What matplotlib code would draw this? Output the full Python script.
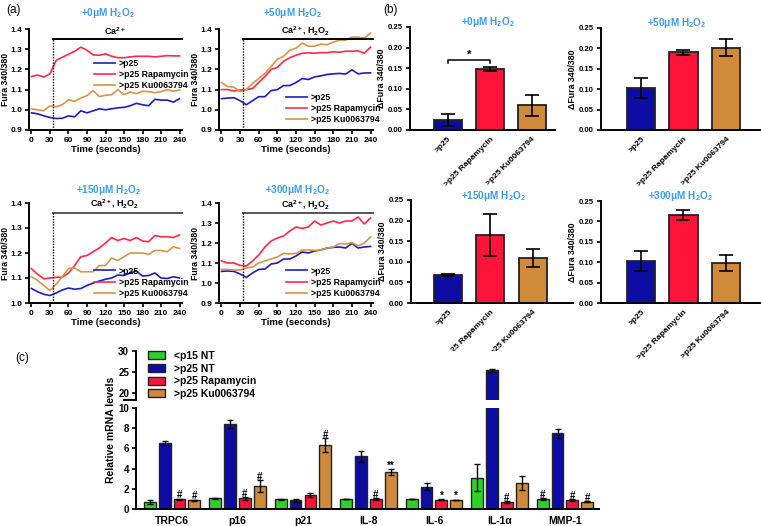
import numpy as np
import matplotlib
matplotlib.use("Agg")
import matplotlib.pyplot as plt
from matplotlib.patches import Patch

plt.rcParams['font.family'] = ['Liberation Sans', 'DejaVu Sans']
plt.rcParams['font.weight'] = 'bold'
plt.rcParams['mathtext.fontset'] = 'custom'
plt.rcParams['mathtext.rm'] = 'Liberation Sans:bold'
plt.rcParams['mathtext.it'] = 'Liberation Sans:bold'
plt.rcParams['mathtext.bf'] = 'Liberation Sans:bold'

# ---------------- data ----------------
time_s = [0, 10, 20, 30, 40, 50, 60, 70, 80, 90, 100, 110, 120, 130, 140, 150,
          160, 170, 180, 190, 200, 210, 220, 230, 240]
series_names = [">p25", ">p25 Rapamycin", ">p25 Ku0063794"]

h0_p25 = [0.985, 0.98, 0.97, 0.962, 0.957, 0.958, 0.97, 0.965, 0.995, 0.985, 0.995, 1.005, 1.0,
          1.005, 1.01, 1.012, 1.02, 1.032, 1.025, 1.02, 1.052, 1.048, 1.048, 1.038, 1.055]
h0_rapa = [1.165, 1.172, 1.162, 1.178, 1.245, 1.26, 1.275, 1.29, 1.31, 1.295, 1.272, 1.27, 1.277,
           1.265, 1.258, 1.258, 1.262, 1.265, 1.265, 1.265, 1.262, 1.265, 1.268, 1.267, 1.267]
h0_ku = [1.005, 1.0, 0.995, 1.02, 1.015, 1.025, 1.05, 1.042, 1.058, 1.07, 1.095, 1.065, 1.072,
         1.075, 1.1, 1.075, 1.088, 1.08, 1.092, 1.09, 1.085, 1.09, 1.1, 1.092, 1.098]

h50_p25 = [1.055, 1.058, 1.06, 1.045, 1.025, 1.045, 1.065, 1.065, 1.095, 1.1, 1.12, 1.12, 1.135,
           1.155, 1.15, 1.163, 1.168, 1.175, 1.178, 1.18, 1.177, 1.198, 1.178, 1.182, 1.183]
h50_rapa = [1.1, 1.1, 1.093, 1.098, 1.1, 1.105, 1.135, 1.165, 1.2, 1.21, 1.24, 1.258, 1.27,
            1.28, 1.282, 1.28, 1.283, 1.283, 1.287, 1.285, 1.29, 1.29, 1.292, 1.28, 1.31]
h50_ku = [1.135, 1.115, 1.112, 1.09, 1.1, 1.13, 1.155, 1.18, 1.215, 1.25, 1.265, 1.295, 1.305,
          1.33, 1.315, 1.315, 1.325, 1.322, 1.335, 1.345, 1.345, 1.36, 1.36, 1.355, 1.38]

h150_p25 = [1.058, 1.045, 1.035, 1.03, 1.04, 1.052, 1.06, 1.055, 1.058, 1.07, 1.08, 1.088, 1.095,
            1.1, 1.112, 1.11, 1.12, 1.128, 1.108, 1.11, 1.12, 1.1, 1.098, 1.105, 1.1]
h150_rapa = [1.137, 1.115, 1.097, 1.1, 1.103, 1.103, 1.12, 1.15, 1.185, 1.19, 1.205, 1.22, 1.24,
             1.262, 1.25, 1.258, 1.25, 1.262, 1.248, 1.245, 1.27, 1.265, 1.265, 1.262, 1.272]
h150_ku = [1.105, 1.09, 1.07, 1.05, 1.075, 1.105, 1.138, 1.14, 1.125, 1.125, 1.125, 1.15, 1.15,
           1.18, 1.17, 1.185, 1.2, 1.2, 1.2, 1.195, 1.21, 1.21, 1.205, 1.225, 1.218]

h300_p25 = [1.058, 1.06, 1.058, 1.045, 1.028, 1.05, 1.068, 1.07, 1.095, 1.1, 1.12, 1.12, 1.135,
            1.155, 1.15, 1.16, 1.165, 1.175, 1.178, 1.18, 1.175, 1.198, 1.175, 1.18, 1.183]
h300_rapa = [1.11, 1.1, 1.1, 1.088, 1.085, 1.11, 1.14, 1.18, 1.21, 1.225, 1.235, 1.26, 1.28,
             1.273, 1.28, 1.31, 1.29, 1.3, 1.31, 1.3, 1.31, 1.31, 1.33, 1.295, 1.325]
h300_ku = [1.068, 1.068, 1.065, 1.065, 1.075, 1.08, 1.1, 1.11, 1.12, 1.13, 1.148, 1.145, 1.148,
           1.165, 1.165, 1.163, 1.165, 1.175, 1.18, 1.197, 1.195, 1.202, 1.185, 1.2, 1.23]

# panel b: delta Fura means and SEM
bar_groups = [">p25", ">p25 Rapamycin", ">p25 Ku0063794"]
d0_mean = [0.025, 0.148, 0.060]
d0_err = [0.015, 0.005, 0.026]
d50_mean = [0.103, 0.190, 0.202]
d50_err = [0.025, 0.005, 0.021]
d150_mean = [0.068, 0.165, 0.110]
d150_err = [0.003, 0.050, 0.022]
d300_mean = [0.103, 0.215, 0.098]
d300_err = [0.025, 0.012, 0.020]

# panel c
genes = ["TRPC6", "p16", "p21", "IL-8", "IL-6", "IL-1α", "MMP-1"]
c_names = ["<p15 NT", ">p25 NT", ">p25 Rapamycin", ">p25 Ku0063794"]
c_p15 = [0.65, 1.05, 0.95, 1.0, 1.0, 3.1, 0.98]
c_p15_err = [0.2, 0.05, 0.05, 0.03, 0.03, 1.35, 0.1]
c_p25 = [6.5, 8.45, 0.88, 5.2, 2.2, 25.4, 7.5]
c_p25_err = [0.2, 0.4, 0.15, 0.55, 0.35, 0.4, 0.45]
c_rapa = [0.95, 1.05, 1.4, 0.95, 0.9, 0.65, 0.85]
c_rapa_err = [0.08, 0.12, 0.2, 0.1, 0.05, 0.1, 0.1]
c_ku = [0.85, 2.25, 6.3, 3.65, 0.88, 2.6, 0.7]
c_ku_err = [0.05, 0.6, 0.7, 0.3, 0.03, 0.7, 0.05]
c_p15_sig = ["", "", "", "", "", "", "#"]
c_p25_sig = ["", "", "", "", "", "", ""]
c_rapa_sig = ["#", "#", "", "#", "*", "#", "#"]
c_ku_sig = ["#", "#", "#", "**", "*", "", "#"]

# ---------------- styling ----------------
W, H = 761, 526
fig = plt.figure(figsize=(W / 100, H / 100), dpi=100)

def ax_px(l, t, r, b):
    return fig.add_axes([l / W, 1 - b / H, (r - l) / W, (b - t) / H])

line_cols = ["#1C1CC8", "#FF2A48", "#D8944A"]
bar_cols = ["#0D0DA5", "#FF1439", "#D08A3A"]
green = "#2AD22A"
title_col = "#3A9BF0"

def style_axes(ax, fs=6):
    for s in ["top", "right"]:
        ax.spines[s].set_visible(False)
    for s in ["left", "bottom"]:
        ax.spines[s].set_linewidth(1.4)
    ax.tick_params(direction="out", length=3, width=1.2, labelsize=fs, pad=2)
    for lab in ax.get_xticklabels() + ax.get_yticklabels():
        lab.set_fontweight("bold")

def ylabel_at(ax, box, right_px):
    l, t, r, b = box
    ax.yaxis.set_label_coords((right_px - l) / (r - l), 0.5)

# ---------------- panel a ----------------
a_specs = [
    ((29, 29, 182, 130), "+0μM H$_2$O$_2$", (h0_p25, h0_rapa, h0_ku), (0.9, 1.4), 1.35,
     "Ca$^{2+}$", (0.40, 0.74), (108, 13)),
    ((219, 29, 373, 130), "+50μM H$_2$O$_2$", (h50_p25, h50_rapa, h50_ku), (0.9, 1.4), 1.35,
     "Ca$^{2+}$, H$_2$O$_2$", (0.41, 0.40), (293, 13)),
    ((29, 203, 182, 303), "+150μM H$_2$O$_2$", (h150_p25, h150_rapa, h150_ku), (1.0, 1.4), 1.36,
     "Ca$^{2+}$, H$_2$O$_2$", (0.40, 0.40), (108, 190)),
    ((219, 203, 373, 303), "+300μM H$_2$O$_2$", (h300_p25, h300_rapa, h300_ku), (0.9, 1.4), 1.35,
     "Ca$^{2+}$, H$_2$O$_2$", (0.41, 0.40), (297, 190)),
]
for i, (box, title, ys, ylim, bary, bartxt, legpos, tpos) in enumerate(a_specs):
    ax = ax_px(*box)
    for y, c, n in zip(ys, line_cols, series_names):
        ax.plot(time_s, y, color=c, lw=1.2, label=n)
    ax.set_xlim(-4, 244)
    ax.set_ylim(*ylim)
    ax.set_xticks(np.arange(0, 241, 30))
    ax.set_yticks(np.round(np.arange(ylim[0], 1.401, 0.1), 2))
    ax.yaxis.set_major_formatter(matplotlib.ticker.FormatStrFormatter("%.1f"))
    barcol = "black" if i < 2 else "#555555"
    ax.plot([35, 244], [bary, bary], color=barcol, lw=1.4, clip_on=False)
    ax.plot([35, 35], [ylim[0], bary], color="black", lw=1.0, ls=(0, (1, 1)))
    ax.text(135, bary + 0.012, bartxt, ha="center", va="bottom", fontsize=6.5,
            fontweight="bold")
    ax.set_ylabel("Fura 340/380", fontsize=6.3, fontweight="bold")
    ylabel_at(ax, box, box[0] - 19)
    ax.set_xlabel("Time (seconds)", fontsize=6.8, fontweight="bold", labelpad=1)
    style_axes(ax)
    ax.legend(loc="upper left", bbox_to_anchor=legpos, frameon=False, fontsize=6.3,
              handlelength=2.4, labelspacing=0.25, borderaxespad=0, handletextpad=0.5)
    fig.text(tpos[0] / W, 1 - tpos[1] / H, title, color=title_col, fontsize=7.2,
             fontweight="bold", ha="center", va="center")

fig.text(6 / W, 1 - 10 / H, "(a)", fontsize=8.5, fontweight="normal", va="center")
fig.text(383 / W, 1 - 10 / H, "(b)", fontsize=8.5, fontweight="normal", va="center")
fig.text(15 / W, 1 - 358 / H, "(c)", fontsize=8.5, fontweight="normal", va="center")

# ---------------- panel b ----------------
b_specs = [
    ((410, 27, 555, 130), (-0.9, 2.55), d0_mean, d0_err, "+0μM H$_2$O$_2$", (488, 22)),
    ((601, 28, 760, 130), (-0.94, 2.8), d50_mean, d50_err, "+50μM H$_2$O$_2$", (677, 23)),
    ((411, 200, 573, 303), (-0.87, 2.95), d150_mean, d150_err, "+150μM H$_2$O$_2$", (493, 196)),
    ((601, 201, 760, 303), (-0.94, 2.8), d300_mean, d300_err, "+300μM H$_2$O$_2$", (680, 196)),
]
for i, (box, xlim, m, e, title, tpos) in enumerate(b_specs):
    ax = ax_px(*box)
    x = np.arange(len(bar_groups))
    ax.bar(x, m, width=0.66, color=bar_cols, edgecolor="#222222", linewidth=1.3, zorder=2)
    ax.errorbar(x, m, yerr=e, fmt="none", ecolor="black", elinewidth=1.2, capsize=5,
                capthick=1.2, zorder=3)
    ax.set_xlim(*xlim)
    ax.set_ylim(0, 0.25)
    ax.set_yticks(np.arange(0, 0.251, 0.05))
    ax.yaxis.set_major_formatter(matplotlib.ticker.FormatStrFormatter("%.2f"))
    ax.set_xticks(x)
    ax.set_xticklabels(bar_groups, rotation=45, ha="right", rotation_mode="anchor")
    ax.set_ylabel("ΔFura 340/380", fontsize=6.3, fontweight="bold")
    ylabel_at(ax, box, box[0] - 24)
    style_axes(ax, fs=5.6)
    ax.tick_params(axis="x", length=0, pad=4, labelsize=6)
    if i == 0:
        ax.plot([0, 0, 1, 1], [0.162, 0.170, 0.170, 0.162], color="black", lw=1.1)
        ax.text(0.5, 0.171, "*", ha="center", va="bottom", fontsize=8, fontweight="bold")
    fig.text(tpos[0] / W, 1 - tpos[1] / H, title, color=title_col, fontsize=7.2,
             fontweight="bold", ha="center", va="center")

# ---------------- panel c ----------------
cx = np.arange(len(genes))
axl = ax_px(136, 408, 599, 509)
axu = ax_px(136, 351, 599, 400)
offs = np.array([-1.5, -0.5, 0.5, 1.5]) * 0.226
bw = 0.18
c_vals = [c_p15, c_p25, c_rapa, c_ku]
c_errs = [c_p15_err, c_p25_err, c_rapa_err, c_ku_err]
c_sigs = [c_p15_sig, c_p25_sig, c_rapa_sig, c_ku_sig]
c_cols = [green, bar_cols[0], bar_cols[1], bar_cols[2]]
for ax in (axl, axu):
    for k in range(4):
        ax.bar(cx + offs[k], c_vals[k], width=bw, color=c_cols[k], edgecolor="#222222",
               linewidth=1.0, zorder=2)
        ax.errorbar(cx + offs[k], c_vals[k], yerr=c_errs[k], fmt="none", ecolor="black",
                    elinewidth=1.0, capsize=2.5, capthick=1.0, zorder=3)
    ax.set_xlim(-0.55, 6.52)
for k in range(4):
    for j in range(len(genes)):
        s = c_sigs[k][j]
        if s:
            axl.text(cx[j] + offs[k], c_vals[k][j] + c_errs[k][j] - 0.15, s, ha="center",
                     va="bottom", fontsize=7, fontweight="bold")
axl.set_ylim(0, 10)
axl.set_yticks([0, 2, 4, 6, 8, 10])
axl.set_xticks(cx)
axl.set_xticklabels(genes)
style_axes(axl, fs=7)
axl.tick_params(axis="x", length=0, pad=5, labelsize=7.5)

axu.set_ylim(18.3, 30)
axu.set_yticks([20, 25, 30])
style_axes(axu, fs=7)
axu.spines["bottom"].set_visible(False)
axu.set_xticks([])
axu.plot([-0.025, 0.0], [0, 0], transform=axu.transAxes, color="black", lw=1.4,
         clip_on=False)

fig.text(111 / W, 1 - 430 / H, "Relative mRNA levels", rotation=90, ha="center",
         va="center", fontsize=7.5, fontweight="bold")

handles = [Patch(facecolor=c, edgecolor="#222222", linewidth=1.0) for c in c_cols]
fig.legend(handles, c_names, loc="upper left", bbox_to_anchor=(148 / W, 1 - 351 / H),
           frameon=False, prop={"size": 7.5, "weight": "bold"}, handlelength=1.6,
           handleheight=0.8, labelspacing=0.25, borderaxespad=0, handletextpad=0.9,
           borderpad=0)

fig.savefig("out.png", dpi=100)
